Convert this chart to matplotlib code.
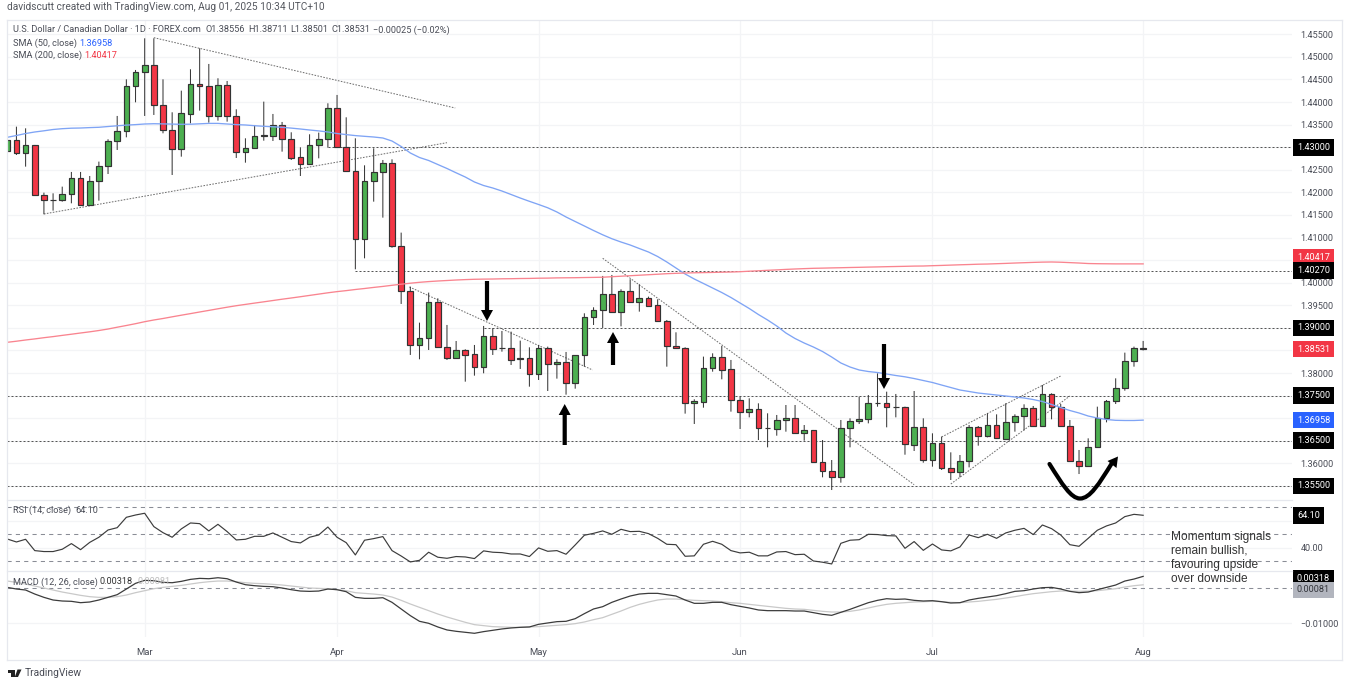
import matplotlib
matplotlib.use('Agg')
import matplotlib.pyplot as plt
import numpy as np
from matplotlib.patches import PathPatch, Polygon
from matplotlib.path import Path

W, H = 1350, 686

opens = [1.42917, 1.43160, 1.42865, 1.43050, 1.41943, 1.41831, 1.41824, 1.41957, 1.42312, 1.41729,
         1.42245, 1.42577, 1.43145, 1.43359, 1.44363, 1.44658, 1.44821, 1.43943, 1.43389, 1.42954,
         1.43743, 1.44400, 1.44348, 1.43699, 1.44378, 1.43699, 1.42887, 1.42976, 1.43241, 1.43241,
         1.43500, 1.43175, 1.42776, 1.42636, 1.43042, 1.43175, 1.43861, 1.43013, 1.42474, 1.40976,
         1.42245, 1.42459, 1.42658, 1.40814, 1.39825, 1.38629, 1.38770, 1.39581, 1.38570, 1.38342,
         1.38504, 1.38415, 1.38127, 1.38814, 1.38548, 1.38563, 1.38305, 1.38327, 1.37987, 1.38555,
         1.38201, 1.38246, 1.37773, 1.38393, 1.39234, 1.39389, 1.39744, 1.39353, 1.39825, 1.39581,
         1.39662, 1.39500, 1.39161, 1.38607, 1.38555, 1.37330, 1.37367, 1.38105, 1.38356, 1.38083,
         1.37404, 1.37131, 1.37205, 1.36784, 1.36762, 1.36961, 1.36998, 1.36681, 1.36732, 1.36031,
         1.35839, 1.35706, 1.36776, 1.36946, 1.36991, 1.37337, 1.37330, 1.37256, 1.37256, 1.36415,
         1.36813, 1.36083, 1.36452, 1.35906, 1.35817, 1.36046, 1.36813, 1.36599, 1.36843, 1.36548,
         1.36909, 1.37057, 1.37219, 1.36828, 1.37529, 1.37256, 1.36828, 1.36046, 1.35950, 1.36371,
         1.37013, 1.37382, 1.37677, 1.38275, 1.38556]
highs = [1.43455, 1.43455, 1.43418, 1.43050, 1.41994, 1.41979, 1.42127, 1.42452, 1.42452, 1.42363,
         1.42681, 1.43175, 1.43692, 1.44503, 1.44710, 1.45411, 1.45411, 1.44503, 1.43773, 1.44252,
         1.44725, 1.45190, 1.44843, 1.44526, 1.44466, 1.43839, 1.43197, 1.43492, 1.44009, 1.43736,
         1.43559, 1.43330, 1.42998, 1.43286, 1.43323, 1.43972, 1.44157, 1.43662, 1.43197, 1.42599,
         1.42976, 1.42717, 1.42732, 1.41109, 1.39913, 1.39116, 1.39781, 1.39655, 1.39065, 1.38710,
         1.38526, 1.38622, 1.39043, 1.38991, 1.38932, 1.38917, 1.38718, 1.38570, 1.38622, 1.38585,
         1.38305, 1.38467, 1.38393, 1.39323, 1.39456, 1.40150, 1.40172, 1.39854, 1.40076, 1.39965,
         1.39692, 1.39633, 1.39175, 1.38902, 1.38570, 1.37419, 1.38364, 1.38437, 1.38600, 1.38290,
         1.37478, 1.37441, 1.37330, 1.37109, 1.37072, 1.37293, 1.37293, 1.36850, 1.36740, 1.36518,
         1.36075, 1.36961, 1.36998, 1.37478, 1.37514, 1.37994, 1.37588, 1.37537, 1.37256, 1.37603,
         1.36998, 1.36666, 1.36592, 1.36245, 1.36186, 1.36850, 1.36828, 1.37109, 1.37086, 1.37330,
         1.37086, 1.37308, 1.37271, 1.37736, 1.37551, 1.37315, 1.36961, 1.36297, 1.36555, 1.37256,
         1.37404, 1.37883, 1.38452, 1.38585, 1.38711]
lows = [1.42902, 1.42828, 1.42570, 1.41943, 1.41515, 1.41596, 1.41795, 1.41758, 1.41721, 1.41699,
        1.41817, 1.42407, 1.42939, 1.43219, 1.43994, 1.43692, 1.43714, 1.43308, 1.42385, 1.42791,
        1.43529, 1.43810, 1.43544, 1.43588, 1.43566, 1.42762, 1.42658, 1.42961, 1.43145, 1.43138,
        1.42902, 1.42717, 1.42363, 1.42607, 1.42754, 1.42990, 1.42998, 1.42459, 1.40297, 1.40540,
        1.41795, 1.41441, 1.40776, 1.39530, 1.38401, 1.38305, 1.38511, 1.38563, 1.38290, 1.38327,
        1.37810, 1.37943, 1.37995, 1.38401, 1.38474, 1.38179, 1.38091, 1.37699, 1.37847, 1.37603,
        1.37877, 1.37522, 1.37655, 1.38142, 1.39065, 1.38998, 1.39345, 1.39035, 1.39581, 1.39360,
        1.39485, 1.39138, 1.38142, 1.38533, 1.37102, 1.36873, 1.37234, 1.38031, 1.37862, 1.37146,
        1.36762, 1.37020, 1.36518, 1.36356, 1.36614, 1.36703, 1.36666, 1.36503, 1.36016, 1.35692,
        1.35411, 1.35574, 1.36356, 1.36872, 1.36887, 1.37256, 1.36799, 1.37020, 1.36193, 1.36275,
        1.36016, 1.35928, 1.35854, 1.35633, 1.35692, 1.35913, 1.36393, 1.36577, 1.36540, 1.36533,
        1.36703, 1.36732, 1.36813, 1.36813, 1.36976, 1.36813, 1.36031, 1.35765, 1.35928, 1.36356,
        1.36909, 1.37315, 1.37610, 1.38142, 1.38501]
closes = [1.43160, 1.42865, 1.43050, 1.41943, 1.41824, 1.41824, 1.41957, 1.42312, 1.41721, 1.42245,
          1.42577, 1.43145, 1.43352, 1.44363, 1.44658, 1.44821, 1.43943, 1.43389, 1.42954, 1.43751,
          1.44393, 1.44348, 1.43699, 1.44378, 1.43699, 1.42887, 1.42976, 1.43256, 1.43264, 1.43500,
          1.43175, 1.42769, 1.42636, 1.43042, 1.43175, 1.43861, 1.43013, 1.42474, 1.40976, 1.42245,
          1.42459, 1.42658, 1.40813, 1.39825, 1.38629, 1.38770, 1.39581, 1.38570, 1.38342, 1.38504,
          1.38408, 1.38127, 1.38814, 1.38541, 1.38563, 1.38297, 1.38327, 1.37987, 1.38555, 1.38194,
          1.38238, 1.37773, 1.38393, 1.39234, 1.39389, 1.39744, 1.39353, 1.39825, 1.39581, 1.39662,
          1.39493, 1.39153, 1.38600, 1.38548, 1.37330, 1.37375, 1.38105, 1.38356, 1.38076, 1.37397,
          1.37138, 1.37205, 1.36776, 1.36776, 1.36961, 1.36998, 1.36681, 1.36732, 1.36031, 1.35839,
          1.35706, 1.36784, 1.36946, 1.36991, 1.37330, 1.37345, 1.37249, 1.37249, 1.36422, 1.36813,
          1.36083, 1.36444, 1.35906, 1.35817, 1.36046, 1.36813, 1.36599, 1.36843, 1.36555, 1.36909,
          1.37057, 1.37219, 1.36828, 1.37529, 1.37256, 1.36828, 1.36046, 1.35950, 1.36371, 1.37013,
          1.37382, 1.37677, 1.38275, 1.38548, 1.38531]

sma50 = [1.43219, 1.43259, 1.43303, 1.43337, 1.43363, 1.43392, 1.43410, 1.43421, 1.43425, 1.43434,
         1.43441, 1.43458, 1.43474, 1.43489, 1.43500, 1.43514, 1.43520, 1.43516, 1.43512, 1.43507,
         1.43509, 1.43518, 1.43527, 1.43527, 1.43514, 1.43500, 1.43492, 1.43476, 1.43463, 1.43452,
         1.43441, 1.43423, 1.43403, 1.43381, 1.43361, 1.43337, 1.43303, 1.43279, 1.43257, 1.43241,
         1.43226, 1.43204, 1.43137, 1.43016, 1.42872, 1.42772, 1.42706, 1.42617, 1.42529, 1.42433,
         1.42340, 1.42230, 1.42152, 1.42097, 1.42030, 1.41953, 1.41875, 1.41802, 1.41732, 1.41659,
         1.41566, 1.41455, 1.41355, 1.41256, 1.41156, 1.41061, 1.40974, 1.40901, 1.40835, 1.40757,
         1.40680, 1.40580, 1.40459, 1.40326, 1.40193, 1.40082, 1.39983, 1.39883, 1.39783, 1.39673,
         1.39551, 1.39429, 1.39296, 1.39175, 1.39042, 1.38887, 1.38765, 1.38665, 1.38577, 1.38477,
         1.38355, 1.38223, 1.38134, 1.38068, 1.38034, 1.38012, 1.37979, 1.37946, 1.37917, 1.37879,
         1.37835, 1.37791, 1.37735, 1.37680, 1.37625, 1.37592, 1.37558, 1.37536, 1.37514, 1.37492,
         1.37470, 1.37448, 1.37414, 1.37370, 1.37304, 1.37237, 1.37171, 1.37116, 1.37049, 1.37005,
         1.36972, 1.36954, 1.36950, 1.36950, 1.36958]
sma200 = [1.38681, 1.38705, 1.38732, 1.38756, 1.38783, 1.38807, 1.38834, 1.38860, 1.38887, 1.38913,
          1.38942, 1.38975, 1.39015, 1.39053, 1.39093, 1.39137, 1.39175, 1.39208, 1.39245, 1.39281,
          1.39316, 1.39352, 1.39387, 1.39423, 1.39458, 1.39491, 1.39520, 1.39549, 1.39577, 1.39606,
          1.39635, 1.39662, 1.39690, 1.39719, 1.39748, 1.39777, 1.39803, 1.39825, 1.39850, 1.39872,
          1.39896, 1.39918, 1.39943, 1.39967, 1.39989, 1.40009, 1.40025, 1.40038, 1.40049, 1.40060,
          1.40069, 1.40076, 1.40080, 1.40082, 1.40087, 1.40089, 1.40093, 1.40095, 1.40100, 1.40102,
          1.40107, 1.40109, 1.40111, 1.40115, 1.40118, 1.40122, 1.40133, 1.40144, 1.40155, 1.40166,
          1.40177, 1.40188, 1.40200, 1.40208, 1.40215, 1.40220, 1.40224, 1.40228, 1.40233, 1.40237,
          1.40244, 1.40255, 1.40264, 1.40275, 1.40284, 1.40295, 1.40304, 1.40312, 1.40319, 1.40323,
          1.40328, 1.40332, 1.40337, 1.40341, 1.40346, 1.40350, 1.40355, 1.40359, 1.40363, 1.40368,
          1.40370, 1.40377, 1.40383, 1.40390, 1.40397, 1.40403, 1.40410, 1.40414, 1.40421, 1.40428,
          1.40436, 1.40443, 1.40450, 1.40456, 1.40459, 1.40454, 1.40445, 1.40436, 1.40425, 1.40421,
          1.40419, 1.40417, 1.40417, 1.40417, 1.40417]

rsi = [46.5, 44.3, 46.3, 37.9, 37.2, 37.2, 38.9, 43.1, 38.6, 44.0,
       47.8, 53.2, 54.9, 62.6, 64.3, 65.6, 55.7, 51.2, 47.8, 54.0,
       58.4, 57.9, 52.5, 57.4, 52.0, 45.8, 46.3, 48.5, 48.5, 51.0,
       47.8, 44.6, 43.6, 47.8, 49.5, 55.4, 47.8, 43.8, 34.7, 45.6,
       46.8, 48.3, 37.9, 33.9, 29.5, 30.7, 36.7, 33.0, 32.2, 33.5,
       33.2, 32.0, 37.7, 36.7, 36.4, 35.4, 35.4, 33.5, 39.9, 37.4,
       37.9, 35.2, 42.1, 49.3, 50.7, 52.5, 50.0, 53.7, 52.0, 52.2,
       50.5, 47.0, 42.6, 42.3, 33.7, 34.0, 42.6, 44.8, 42.6, 37.9,
       36.2, 36.7, 34.0, 34.0, 36.9, 37.2, 34.9, 35.2, 30.2, 29.3,
       28.0, 43.3, 45.6, 46.0, 50.0, 49.8, 49.0, 48.8, 39.6, 44.6,
       38.1, 42.8, 38.4, 37.7, 40.6, 49.5, 47.5, 50.0, 47.0, 51.0,
       53.0, 54.4, 49.8, 56.9, 54.2, 49.5, 42.3, 41.1, 47.0, 53.0,
       56.2, 58.4, 63.1, 64.8, 64.1]

# macd values in units of 1e-4
macd_line = [0.9, -3.7, -6.5, -17.8, -27.1, -34.6, -37.4, -38.3, -42.1, -40.2,
             -34.6, -27.1, -19.6, -3.7, 12.2, 20.6, 19.6, 15.0, 14.0, 17.8,
             23.4, 26.2, 25.2, 28.0, 25.2, 15.9, 8.4, 5.6, 3.7, 2.8,
             -0.9, -5.6, -9.4, -10.3, -9.4, -3.7, -5.6, -11.2, -27.1, -29.9,
             -29.9, -28.1, -41.1, -59.8, -78.5, -94.4, -100.0, -110.3, -118.7, -122.5,
             -125.3, -128.1, -123.4, -119.7, -115.9, -113.1, -111.3, -110.3, -102.9, -99.1,
             -95.4, -94.4, -87.0, -72.9, -59.8, -53.3, -41.1, -31.8, -23.4, -17.8,
             -15.9, -15.9, -19.6, -23.4, -34.6, -43.9, -43.9, -41.1, -41.1, -47.7,
             -52.4, -57.0, -62.6, -64.5, -64.5, -64.5, -65.5, -65.5, -70.1, -74.8,
             -77.6, -69.2, -60.8, -51.4, -42.1, -35.5, -30.9, -32.7, -31.8, -35.5,
             -37.4, -36.5, -39.3, -43.0, -42.1, -34.6, -29.9, -26.2, -22.4, -16.8,
             -10.3, -8.4, -3.7, 0.0, 0.9, -3.7, -10.3, -14.0, -12.2, -5.6,
             0.9, 7.5, 18.7, 24.3, 31.8]
macd_signal = [18.7, 15.0, 10.3, 4.7, -0.9, -6.5, -12.2, -16.8, -21.5, -25.2,
               -27.1, -27.1, -25.2, -20.6, -14.0, -8.4, -2.8, 0.9, 3.7, 6.5,
               10.3, 14.0, 16.8, 18.7, 18.7, 16.8, 14.0, 12.2, 11.2, 9.4,
               7.5, 4.7, 1.9, -0.9, -1.9, -2.8, -5.6, -8.4, -14.0, -15.9,
               -17.8, -20.6, -26.2, -35.5, -45.8, -55.2, -64.5, -73.9, -82.3, -89.8,
               -97.2, -103.8, -106.6, -109.4, -110.3, -111.3, -111.3, -110.3, -109.4, -107.5,
               -105.7, -103.8, -101.0, -96.3, -89.8, -84.2, -74.8, -65.5, -55.2, -46.8,
               -40.2, -34.6, -31.8, -31.8, -33.7, -35.5, -36.5, -37.4, -39.3, -42.1,
               -43.9, -46.8, -49.6, -52.4, -55.2, -58.0, -59.8, -60.8, -63.6, -66.4,
               -68.3, -68.3, -66.4, -62.6, -57.0, -51.4, -46.8, -43.9, -42.1, -40.2,
               -39.3, -38.3, -39.3, -41.1, -42.1, -40.2, -38.3, -35.5, -32.7, -29.0,
               -25.2, -20.6, -16.8, -14.0, -11.2, -9.4, -9.4, -10.3, -9.4, -8.4,
               -5.6, -2.8, 1.9, 5.6, 8.1]

month_bars = [15, 36, 58, 80, 101, 124]
month_labels = ['Mar', 'Apr', 'May', 'Jun', 'Jul', 'Aug']

# level, first bar
levels = [(1.43, 35), (1.4027, 38), (1.39, 52), (1.375, 0), (1.365, 0), (1.355, 0)]
# bar0, price0, bar1, price1
trendlines = [(16, 1.45425, 48.9, 1.43868),
              (4, 1.41522, 48, 1.43100),
              (43.9, 1.39906, 63.9, 1.38068),
              (65, 1.40541, 99, 1.35529),
              (103, 1.35544, 116, 1.37492),
              (102, 1.36585, 115, 1.37935)]
price_ticks = [1.355 + 0.005 * k for k in range(21)]
hidden_ticks = ['1.35500', '1.36500', '1.37000', '1.37500', '1.38500', '1.39000', '1.40500', '1.43000']
# text, price at which the tag sits, colour
price_tags = [('1.43000', 1.43, 'black'), ('1.40417', 1.40560, '#f23645'), ('1.40270', 1.4027, 'black'),
              ('1.39000', 1.39, 'black'), ('1.38531', 1.38531, '#f23645'), ('1.37500', 1.375, 'black'),
              ('1.36958', 1.36958, '#2962ff'), ('1.36500', 1.365, 'black'), ('1.35500', 1.355, 'black')]

FONT = 'Roboto'
GRID = '#f3f4f6'
TXT = '#4a4d57'
plt.rcParams['font.family'] = [FONT, 'DejaVu Sans']


def pane(y0, y1, x0=7, x1=1292):
    return fig.add_axes([x0 / W, 1 - y1 / H, (x1 - x0) / W, (y1 - y0) / H])


def style_pane(ax):
    ax.set_xlim(-0.03, 140.25)
    ax.yaxis.tick_right()
    ax.set_xticks(month_bars)
    ax.tick_params(length=0, labelsize=6.6, labelcolor=TXT, pad=6, axis='y')
    ax.tick_params(length=0, labelbottom=False, axis='x')
    ax.grid(True, color=GRID, lw=0.9)
    ax.set_axisbelow(True)
    for s in ax.spines.values():
        s.set_visible(False)
    ax.patch.set_alpha(0)


def tag(ax, y, text, color, tcolor='white', width=41):
    tr = ax.get_yaxis_transform()
    ax_w = ax.get_position().width * W
    ax.text(1 + (1 + width / 2) / ax_w, y, text, transform=tr, ha='center', va='center', fontsize=6.6,
            color=tcolor, clip_on=False, zorder=8,
            bbox=dict(boxstyle='square,pad=0.42', fc=color, ec='none'))


fig = plt.figure(figsize=(W / 100, H / 100), dpi=100, facecolor='white')

# price pane
ax = pane(21, 499)
style_pane(ax)
ax.set_ylim(1.35212, 1.45794)
ax.set_yticks(price_ticks)
tick_text = [f'{t:.5f}' for t in price_ticks]
ax.set_yticklabels(['' if t in hidden_ticks else t for t in tick_text])

bars = np.arange(len(closes))
o, h, l, c = map(np.array, (opens, highs, lows, closes))
up = c >= o
wicks = ax.vlines(bars, l, h, color='#3a3a3a', lw=0.75, zorder=3)
wicks.set_snap(False)
body_colors = np.where(up, '#4caf50', '#f23645')
ax.bar(bars, np.abs(c - o), bottom=np.minimum(o, c), width=0.62, color=body_colors,
       edgecolor='#333333', lw=0.85, zorder=3.5)

for level, first in levels:
    ax.plot([first, 140.25], [level, level], color='#555555', lw=0.72, ls=(0, (2, 2)), zorder=2)
for b0, p0, b1, p1 in trendlines:
    ax.plot([b0, b1], [p0, p1], color='#6e6e6e', lw=0.72, ls=(0, (1.6, 1.4)), zorder=2.5)

ax.plot(bars, sma50, color='#7fa4f5', lw=0.95, zorder=4)
ax.plot(bars, sma200, color='#f9848f', lw=0.95, zorder=4)

for text, y, color in price_tags:
    tag(ax, y, text, color)

# rsi pane
ax_rsi = pane(499.5, 570.7)
style_pane(ax_rsi)
ax_rsi.set_ylim(23.0, 75.8)
ax_rsi.set_yticks([40, 60])
ax_rsi.set_yticklabels(['40.00', ''])
for level in (70, 50, 30):
    ax_rsi.axhline(level, color='#8a8d96', lw=0.75, ls=(0, (4, 4)), zorder=1)
ax_rsi.plot(bars, rsi, color='#3c3c3c', lw=0.85, zorder=3)
tag(ax_rsi, 64.1, '64.10', 'black', width=31)

# macd pane
ax_macd = pane(571, 637)
style_pane(ax_macd)
ax_macd.set_ylim(-0.01385, 0.00469)
ax_macd.set_yticks([-0.01])
ax_macd.set_yticklabels(['\u22120.01000'])
ax_macd.axhline(0, color='#8a8d96', lw=0.75, ls=(0, (4, 4)), zorder=1)
ax_macd.plot(bars, np.array(macd_signal) * 1e-4, color='#c9c9c9', lw=0.9, zorder=2)
ax_macd.plot(bars, np.array(macd_line) * 1e-4, color='#3c3c3c', lw=0.9, zorder=3)
tag(ax_macd, 0.00272, '0.00318', 'black')
tag(ax_macd, -0.00062, '0.00081', '#b2b5be', tcolor='#33353b')
ax_macd.set_xticks(month_bars)
ax_macd.set_xticklabels(month_labels)
ax_macd.tick_params(axis='x', labelbottom=True, labelsize=6.8, labelcolor=TXT, pad=8)

# overlay in pixel coordinates for drawings and header text
ov = fig.add_axes([0, 0, 1, 1])
ov.set_xlim(0, W)
ov.set_ylim(H, 0)
ov.axis('off')
ov.patch.set_alpha(0)

border = '#e6e8ee'
for xs, ys in [((7, 1342), (20, 20)), ((7, 1342), (660, 660)), ((1342, 1342), (20, 660)), ((7, 7), (20, 660)),
               ((7, 1292), (499.5, 499.5)), ((7, 1292), (570.7, 570.7))]:
    ov.plot(xs, ys, color=border, lw=0.9)

for x, y0, y1 in [(487, 281, 321), (564.7, 445, 404), (613, 365, 332), (884, 344, 389)]:
    ov.arrow(x, y0, 0, y1 - y0, width=4.2, head_width=12, head_length=11,
             length_includes_head=True, fc='black', ec='none', zorder=6)

curve = Path([(1049.5, 464), (1062, 484), (1071, 498.5), (1080, 498.5), (1090, 498.5), (1099, 484), (1112, 463)],
             [Path.MOVETO, Path.CURVE4, Path.CURVE4, Path.CURVE4, Path.CURVE4, Path.CURVE4, Path.CURVE4])
ov.add_patch(PathPatch(curve, fc='none', ec='black', lw=3, capstyle='round', zorder=6))
ov.add_patch(Polygon([(1118, 456.5), (1107.5, 461), (1116.5, 468)], fc='black', ec='none', zorder=6))

header_y = 30
for x, s in [(13, 'U.S. Dollar / Canadian Dollar \u00b7 1D \u00b7 FOREX.com'), (206, 'O1.38556'), (248, 'H1.38711'),
             (290, 'L1.38501'), (332, 'C1.38531'), (373, '\u22120.00025 (\u22120.02%)')]:
    ov.text(x, header_y, s, fontsize=6.6, color=TXT, va='center')
ov.text(7, 7, 'davidscutt created with TradingView.com, Aug 01, 2025 10:34 UTC+10', fontsize=7.3, color='#55585f', va='center')
ov.text(13, 43, 'SMA (50, close)', fontsize=6.6, color=TXT, va='center')
ov.text(79, 43, '1.36958', fontsize=6.6, color='#2962ff', va='center')
ov.text(13, 55.7, 'SMA (200, close)', fontsize=6.6, color=TXT, va='center')
ov.text(84, 55.7, '1.40417', fontsize=6.6, color='#f23645', va='center')
ov.text(13, 510.7, 'RSI (14, close)', fontsize=6.6, color=TXT, va='center')
ov.text(75, 510.7, '64.10', fontsize=6.6, color=TXT, va='center')
ov.text(13, 582, 'MACD (12, 26, close)', fontsize=6.6, color=TXT, va='center')
ov.text(100, 582, '0.00318', fontsize=6.6, color='#333333', va='center')
ov.text(137, 582, '0.00081', fontsize=6.6, color='#bdbdbd', va='center')

for y, s in zip([536.7, 550.7, 565, 578.5], ['Momentum signals', 'remain bullish,', 'favouring upside', 'over downside']):
    ov.text(1171, y, s, fontsize=8.6, color='#333333', family='Liberation Sans', va='center', zorder=7)

# logo
ov.add_patch(Polygon([(7.5, 669.5), (14.5, 669.5), (14.5, 677), (11, 677), (11, 672.5), (7.5, 672.5)], fc='#222222', ec='none'))
ov.add_patch(Polygon([(17.5, 669.5), (21.5, 669.5), (18, 677), (14.8, 677)], fc='#222222', ec='none'))
ov.text(25, 673, 'TradingView', fontsize=7.4, color='#4a4d57', va='center')

fig.savefig('out.png', dpi=100)
